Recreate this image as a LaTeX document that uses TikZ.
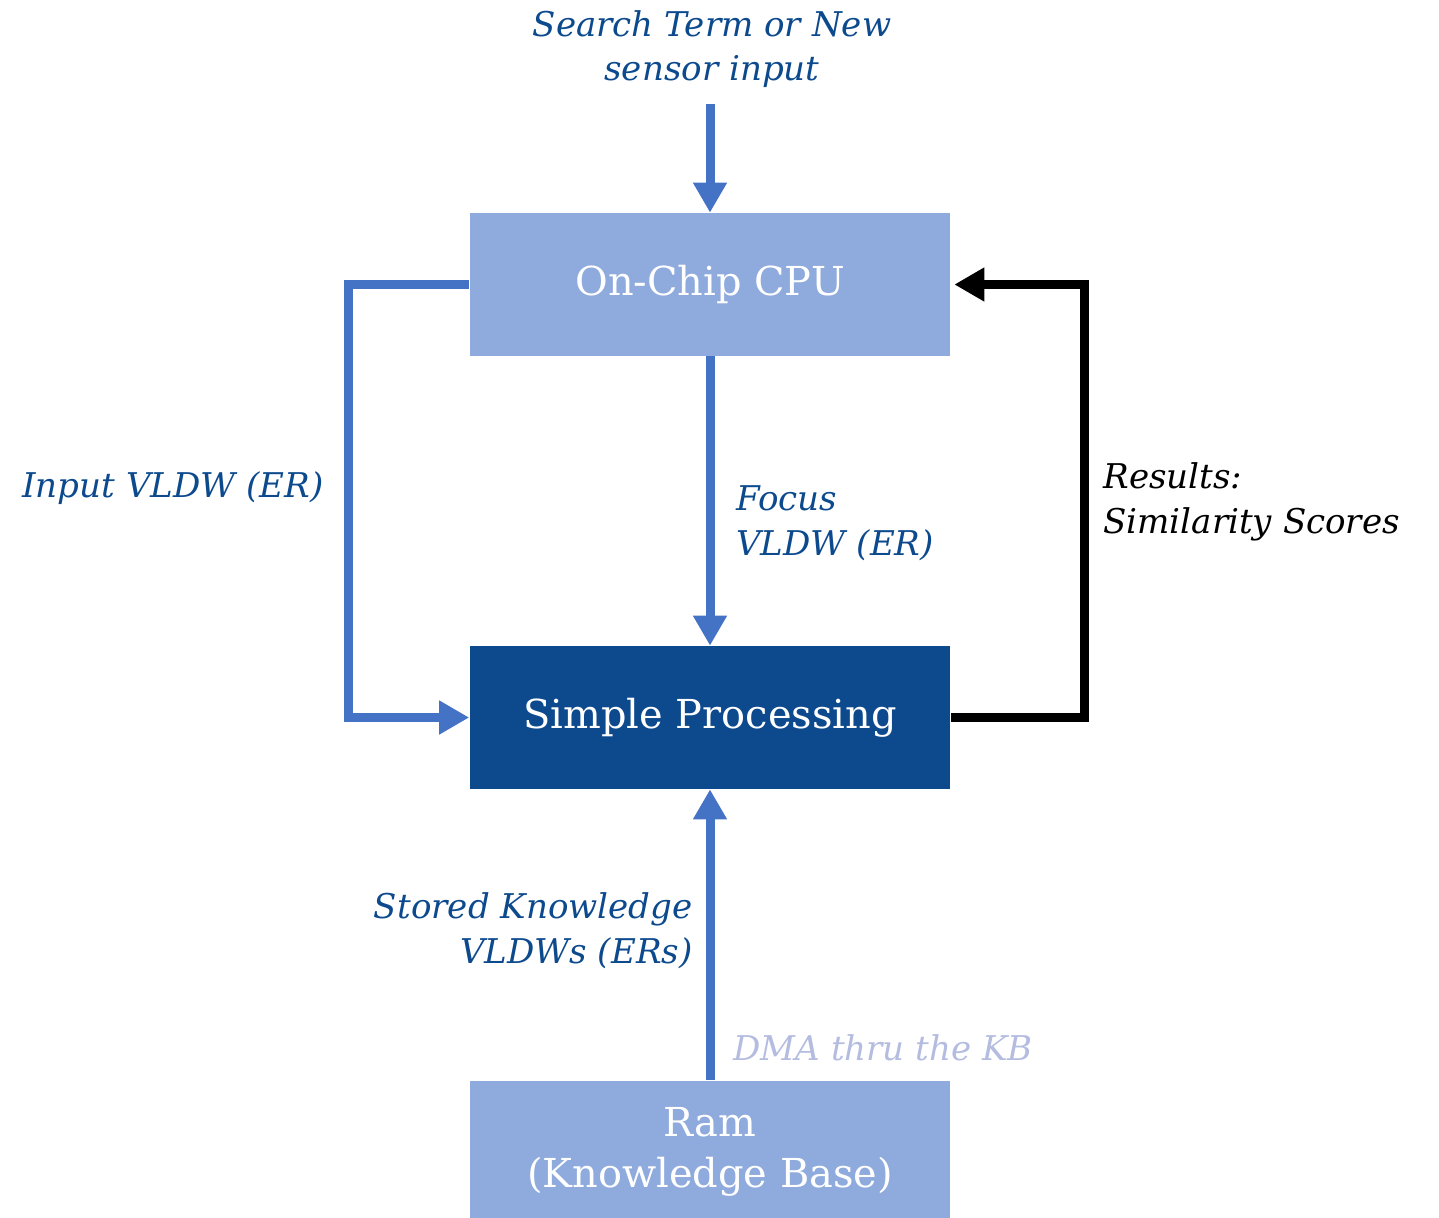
\documentclass[tikz,border=0pt]{standalone}
\usepackage{fontspec}
\setmainfont{DejaVu Serif}
\usetikzlibrary{arrows.meta}
\definecolor{lightbox}{HTML}{8FAADC}
\definecolor{darkbox}{HTML}{0D4A8D}
\definecolor{flowblue}{HTML}{4472C4}
\definecolor{labelblue}{HTML}{0D4A8D}
\definecolor{dmagrey}{HTML}{B4BCE0}
\begin{document}
\begin{tikzpicture}[x=0.02cm,y=-0.02cm,
    box/.style={minimum width=9.62cm,minimum height=2.86cm,inner sep=0pt,
      text=white,font=\fontsize{22.7}{29}\selectfont,align=center},
    flow/.style={line width=0.18cm,flowblue,-{Triangle[width=0.64cm,length=0.6cm]}},
    lbl/.style={inner sep=0pt,labelblue,font=\fontsize{19.4}{25.5}\selectfont\itshape}]
    \useasboundingbox (0,0) rectangle (1439,1217);
    \newcommand{\loopx}{348}
    \newcommand{\backx}{1084}
    \node[box,fill=lightbox] (cpu) at (710,284.5) {On-Chip CPU};
    \node[box,fill=darkbox] (proc) at (710,717.5) {Simple Processing};
    \node[box,fill=lightbox] (ram) at (710,1152) {Ram\\(Knowledge Base)};
    \coordinate (in) at (710,104);
    \node[lbl,align=center] (search) at (712,49) {Search Term or New\\sensor input};
    \node[lbl,anchor=west] (inlbl) at (22,488) {Input VLDW (ER)};
    \node[lbl,anchor=west,align=left] (focus) at (736,523) {Focus\\VLDW (ER)};
    \node[lbl,anchor=west,align=left,text=black] (res) at (1103,502) {Results:\\Similarity Scores};
    \node[lbl,anchor=east,align=right] (stored) at (693,931) {Stored Knowledge\\VLDWs (ERs)};
    \node[lbl,anchor=west,text=dmagrey] (dma) at (733,1048) {DMA thru the KB};
    \draw[flow] (in) -- (cpu.north);
    \draw[flow] (cpu.west) -- (\loopx,284.5) |- (proc.west);
    \draw[flow] (cpu.south) -- (proc.north);
    \draw[flow,black] (proc.east) -- (\backx,717.5) |- ([xshift=2]cpu.east);
    \draw[flow] (ram.north) -- (proc.south);
\end{tikzpicture}
\end{document}
